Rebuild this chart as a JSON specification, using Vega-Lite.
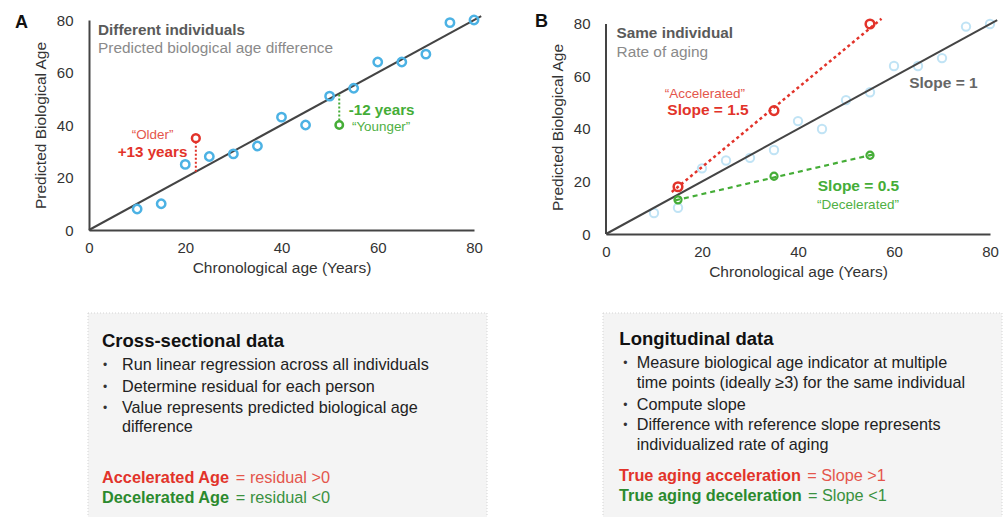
{
  "$schema": "https://vega.github.io/schema/vega-lite/v6.json",
  "padding": {"left": 14, "top": 10, "right": 0, "bottom": 0},
  "background": "white",
  "config": {
    "view": {"stroke": null},
    "font": "Liberation Sans",
    "axis": {"domainColor": "#444", "domainWidth": 2, "ticks": false, "tickSize": 0, "grid": false, "labelFont": "Liberation Sans", "labelFontSize": 15, "labelColor": "#333", "titleFont": "Liberation Sans", "titleFontSize": 15.5, "titleFontWeight": "normal", "titleColor": "#333", "labelFlush": false},
    "axisX": {"labelPadding": 10, "titlePadding": 5},
    "axisY": {"labelPadding": 16, "titlePadding": 8}
  },
  "datasets": {
    "pts": [
      {"x": 10, "y": 8}, {"x": 15, "y": 10}, {"x": 20, "y": 25}, {"x": 25, "y": 28}, {"x": 30, "y": 29},
      {"x": 35, "y": 32}, {"x": 40, "y": 43}, {"x": 45, "y": 40}, {"x": 50, "y": 51}, {"x": 55, "y": 54},
      {"x": 60, "y": 64}, {"x": 65, "y": 64}, {"x": 70, "y": 67}, {"x": 75, "y": 79}, {"x": 80, "y": 80}
    ],
    "fit": [{"x": 0, "y": 0}, {"x": 81.5, "y": 81.5}],
    "axisB": [{"x": 0, "y": 0, "y2": 80}],
    "resA": [{"role": "red", "x": 22.2, "y": 22.2, "y2": 33.3}, {"role": "green", "x": 52, "y": 41.7, "y2": 52}],
    "outA": [{"role": "red", "x": 22.2, "y": 35}, {"role": "green", "x": 52, "y": 40}],
    "traj": [
      {"role": "red", "x": 13.7, "y": 16}, {"role": "red", "x": 57.4, "y": 82},
      {"role": "green", "x": 14.4, "y": 12.8}, {"role": "green", "x": 56.4, "y": 30.6}
    ],
    "obsB": [
      {"role": "red", "x": 15, "y": 18}, {"role": "red", "x": 35, "y": 47}, {"role": "red", "x": 55, "y": 80},
      {"role": "green", "x": 15, "y": 13}, {"role": "green", "x": 35, "y": 22}, {"role": "green", "x": 55, "y": 30}
    ],
    "annA": [
      {"role": "letter", "x": -15.4, "y": 76.95, "t": "A"},
      {"role": "head", "x": 1.87, "y": 76.2, "t": "Different individuals"},
      {"role": "sub", "x": 1.87, "y": 69.2, "t": "Predicted biological age difference"},
      {"role": "redLight", "x": 13.2, "y": 36.2, "t": "“Older”"},
      {"role": "redBold", "x": 13.2, "y": 29.6, "t": "+13 years"},
      {"role": "greenBold", "x": 60.8, "y": 45.7, "t": "-12 years"},
      {"role": "greenLight", "x": 60.7, "y": 39.1, "t": "“Younger”"}
    ],
    "annB": [
      {"role": "letter", "x": -14.8, "y": 78.86, "t": "B"},
      {"role": "head", "x": 2.2, "y": 76.5, "t": "Same individual"},
      {"role": "sub", "x": 2.2, "y": 69.5, "t": "Rate of aging"},
      {"role": "redLight", "x": 20.6, "y": 53.2, "t": "“Accelerated”"},
      {"role": "redBold", "x": 21.25, "y": 47.2, "t": "Slope = 1.5"},
      {"role": "grayBold", "x": 70.3, "y": 57.6, "t": "Slope = 1"},
      {"role": "greenBold", "x": 52.6, "y": 18.3, "t": "Slope = 0.5"},
      {"role": "greenLight", "x": 52.5, "y": 11.0, "t": "“Decelerated”"}
    ],
    "boxA": [
      {"role": "bg", "x": -0.25, "x2": 100, "y": 0, "y2": 100},
      {"role": "border", "x": -0.25, "x2": 100, "y": 0, "y2": 0},
      {"role": "border", "x": -0.25, "x2": -0.25, "y": 0, "y2": 100},
      {"role": "border", "x": 100, "x2": 100, "y": 0, "y2": 100},
      {"role": "title", "x": 3.27, "y": 13.7, "t": "Cross-sectional data"},
      {"role": "bullet", "x": 3.5, "y": 25.5, "t": "•"},
      {"role": "bullet", "x": 3.5, "y": 36.1, "t": "•"},
      {"role": "bullet", "x": 3.5, "y": 46.7, "t": "•"},
      {"role": "body", "x": 8.29, "y": 25.5, "t": "Run linear regression across all individuals"},
      {"role": "body", "x": 8.29, "y": 36.1, "t": "Determine residual for each person"},
      {"role": "body", "x": 8.29, "y": 46.7, "t": "Value represents predicted biological age"},
      {"role": "body", "x": 8.29, "y": 55.7, "t": "difference"},
      {"role": "redBold", "x": 3.27, "y": 81.0, "t": "Accelerated Age"},
      {"role": "redLight", "x": 36.9, "y": 81.0, "t": "= residual >0"},
      {"role": "greenBold", "x": 3.27, "y": 90.8, "t": "Decelerated Age"},
      {"role": "greenLight", "x": 36.9, "y": 90.8, "t": "= residual <0"}
    ],
    "boxB": [
      {"role": "bg", "x": -0.76, "x2": 100, "y": 0, "y2": 100},
      {"role": "border", "x": -0.76, "x2": 100, "y": 0, "y2": 0},
      {"role": "border", "x": -0.76, "x2": -0.76, "y": 0, "y2": 100},
      {"role": "border", "x": 100, "x2": 100, "y": 0, "y2": 100},
      {"role": "title", "x": 3.37, "y": 12.7, "t": "Longitudinal data"},
      {"role": "bullet", "x": 4.38, "y": 24.7, "t": "•"},
      {"role": "bullet", "x": 4.38, "y": 45.1, "t": "•"},
      {"role": "bullet", "x": 4.38, "y": 54.9, "t": "•"},
      {"role": "body", "x": 7.77, "y": 24.7, "t": "Measure biological age indicator at multiple"},
      {"role": "body", "x": 7.77, "y": 34.5, "t": "time points (ideally ≥3) for the same individual"},
      {"role": "body", "x": 7.77, "y": 45.1, "t": "Compute slope"},
      {"role": "body", "x": 7.77, "y": 54.9, "t": "Difference with reference slope represents"},
      {"role": "body", "x": 7.77, "y": 64.7, "t": "individualized rate of aging"},
      {"role": "redBold", "x": 3.29, "y": 79.9, "t": "True aging acceleration"},
      {"role": "redLight", "x": 50.8, "y": 79.9, "t": "= Slope >1"},
      {"role": "greenBold", "x": 3.29, "y": 89.7, "t": "True aging deceleration"},
      {"role": "greenLight", "x": 51.0, "y": 89.7, "t": "= Slope <1"}
    ]
  },
  "columns": 2,
  "spacing": {"row": 79, "column": 119},
  "bounds": "flush",
  "align": "each",
  "concat": [
    {
      "width": 385,
      "height": 210,
      "encoding": {
        "x": {"field": "x", "type": "quantitative", "scale": {"domain": [0, 80], "nice": false, "zero": false}, "axis": {"values": [0, 20, 40, 60, 80], "title": "Chronological age (Years)"}},
        "y": {"field": "y", "type": "quantitative", "scale": {"domain": [0, 80], "nice": false, "zero": false}, "axis": {"values": [0, 20, 40, 60, 80], "title": "Predicted Biological Age"}}
      },
      "layer": [
        {"data": {"name": "fit"}, "mark": {"type": "line", "color": "#444", "strokeWidth": 2, "clip": false}, "encoding": {}},
        {"data": {"name": "pts"}, "mark": {"type": "point", "filled": false, "shape": "circle", "color": "#4cb2e4", "strokeWidth": 2.5, "size": 70, "opacity": 1, "clip": false}, "encoding": {}},
        {"data": {"name": "resA"}, "transform": [{"filter": "datum.role === 'red'"}], "mark": {"type": "rule", "color": "#e2332a", "strokeWidth": 2, "strokeDash": [2, 2]}, "encoding": {"y2": {"field": "y2"}}},
        {"data": {"name": "resA"}, "transform": [{"filter": "datum.role === 'green'"}], "mark": {"type": "rule", "color": "#45ad37", "strokeWidth": 2, "strokeDash": [2, 2]}, "encoding": {"y2": {"field": "y2"}}},
        {"data": {"name": "outA"}, "transform": [{"filter": "datum.role === 'red'"}], "mark": {"type": "point", "filled": false, "shape": "circle", "color": "#e2332a", "strokeWidth": 2.5, "size": 60, "opacity": 1}, "encoding": {}},
        {"data": {"name": "outA"}, "transform": [{"filter": "datum.role === 'green'"}], "mark": {"type": "point", "filled": false, "shape": "circle", "color": "#45ad37", "strokeWidth": 2.5, "size": 55, "opacity": 1}, "encoding": {}},
        {"data": {"name": "annA"}, "transform": [{"filter": "datum.role === 'letter'"}], "mark": {"type": "text", "fontWeight": "bold", "fontSize": 18, "color": "#111", "align": "left", "baseline": "alphabetic"}, "encoding": {"text": {"field": "t"}}},
        {"data": {"name": "annA"}, "transform": [{"filter": "datum.role === 'head'"}], "mark": {"type": "text", "fontWeight": "bold", "fontSize": 15.3, "color": "#5a5a5a", "align": "left", "baseline": "middle"}, "encoding": {"text": {"field": "t"}}},
        {"data": {"name": "annA"}, "transform": [{"filter": "datum.role === 'sub'"}], "mark": {"type": "text", "fontSize": 15.4, "color": "#8a8a8a", "align": "left", "baseline": "middle"}, "encoding": {"text": {"field": "t"}}},
        {"data": {"name": "annA"}, "transform": [{"filter": "datum.role === 'redLight'"}], "mark": {"type": "text", "fontSize": 13.4, "color": "#e4564c", "align": "center", "baseline": "middle"}, "encoding": {"text": {"field": "t"}}},
        {"data": {"name": "annA"}, "transform": [{"filter": "datum.role === 'redBold'"}], "mark": {"type": "text", "fontWeight": "bold", "fontSize": 15.2, "color": "#e2332a", "align": "center", "baseline": "middle"}, "encoding": {"text": {"field": "t"}}},
        {"data": {"name": "annA"}, "transform": [{"filter": "datum.role === 'greenBold'"}], "mark": {"type": "text", "fontWeight": "bold", "fontSize": 15.2, "color": "#45ad37", "align": "center", "baseline": "middle"}, "encoding": {"text": {"field": "t"}}},
        {"data": {"name": "annA"}, "transform": [{"filter": "datum.role === 'greenLight'"}], "mark": {"type": "text", "fontSize": 13.4, "color": "#4fb044", "align": "center", "baseline": "middle"}, "encoding": {"text": {"field": "t"}}}
      ]
    },
    {
      "width": 384,
      "height": 214,
      "encoding": {
        "x": {"field": "x", "type": "quantitative", "scale": {"domain": [0, 80], "nice": false, "zero": false}, "axis": {"values": [0, 20, 40, 60, 80], "title": "Chronological age (Years)"}},
        "y": {"field": "y", "type": "quantitative", "scale": {"domain": [0, 81.52], "nice": false, "zero": false}, "axis": {"values": [0, 20, 40, 60, 80], "title": "Predicted Biological Age", "domain": false}}
      },
      "layer": [
        {"data": {"name": "axisB"}, "mark": {"type": "rule", "color": "#444", "strokeWidth": 2}, "encoding": {"y2": {"field": "y2"}}},
        {"data": {"name": "pts"}, "mark": {"type": "point", "filled": false, "shape": "circle", "color": "#4cb2e4", "strokeWidth": 2, "size": 70, "opacity": 0.35, "clip": false}, "encoding": {}},
        {"data": {"name": "fit"}, "mark": {"type": "line", "color": "#444", "strokeWidth": 2, "clip": false}, "encoding": {}},
        {"data": {"name": "traj"}, "transform": [{"filter": "datum.role === 'red'"}], "mark": {"type": "line", "color": "#e2332a", "strokeWidth": 2.5, "strokeDash": [3, 3], "clip": false}, "encoding": {}},
        {"data": {"name": "traj"}, "transform": [{"filter": "datum.role === 'green'"}], "mark": {"type": "line", "color": "#45ad37", "strokeWidth": 2.2, "strokeDash": [5, 4], "clip": false}, "encoding": {}},
        {"data": {"name": "obsB"}, "transform": [{"filter": "datum.role === 'red'"}], "mark": {"type": "point", "filled": false, "shape": "circle", "color": "#e2332a", "strokeWidth": 2.5, "size": 75, "opacity": 1}, "encoding": {}},
        {"data": {"name": "obsB"}, "transform": [{"filter": "datum.role === 'green'"}], "mark": {"type": "point", "filled": false, "shape": "circle", "color": "#45ad37", "strokeWidth": 2.2, "size": 50, "opacity": 1}, "encoding": {}},
        {"data": {"name": "annB"}, "transform": [{"filter": "datum.role === 'letter'"}], "mark": {"type": "text", "fontWeight": "bold", "fontSize": 18, "color": "#111", "align": "left", "baseline": "alphabetic"}, "encoding": {"text": {"field": "t"}}},
        {"data": {"name": "annB"}, "transform": [{"filter": "datum.role === 'head'"}], "mark": {"type": "text", "fontWeight": "bold", "fontSize": 15.3, "color": "#5a5a5a", "align": "left", "baseline": "middle"}, "encoding": {"text": {"field": "t"}}},
        {"data": {"name": "annB"}, "transform": [{"filter": "datum.role === 'sub'"}], "mark": {"type": "text", "fontSize": 15.4, "color": "#8a8a8a", "align": "left", "baseline": "middle"}, "encoding": {"text": {"field": "t"}}},
        {"data": {"name": "annB"}, "transform": [{"filter": "datum.role === 'redLight'"}], "mark": {"type": "text", "fontSize": 13.5, "color": "#e4564c", "align": "center", "baseline": "middle"}, "encoding": {"text": {"field": "t"}}},
        {"data": {"name": "annB"}, "transform": [{"filter": "datum.role === 'redBold'"}], "mark": {"type": "text", "fontWeight": "bold", "fontSize": 15.5, "color": "#e2332a", "align": "center", "baseline": "middle"}, "encoding": {"text": {"field": "t"}}},
        {"data": {"name": "annB"}, "transform": [{"filter": "datum.role === 'grayBold'"}], "mark": {"type": "text", "fontWeight": "bold", "fontSize": 15.5, "color": "#666", "align": "center", "baseline": "middle"}, "encoding": {"text": {"field": "t"}}},
        {"data": {"name": "annB"}, "transform": [{"filter": "datum.role === 'greenBold'"}], "mark": {"type": "text", "fontWeight": "bold", "fontSize": 15.5, "color": "#45ad37", "align": "center", "baseline": "middle"}, "encoding": {"text": {"field": "t"}}},
        {"data": {"name": "annB"}, "transform": [{"filter": "datum.role === 'greenLight'"}], "mark": {"type": "text", "fontSize": 13.5, "color": "#4fb044", "align": "center", "baseline": "middle"}, "encoding": {"text": {"field": "t"}}}
      ]
    },
    {
      "width": 398,
      "height": 204,
      "data": {"name": "boxA"},
      "encoding": {
        "x": {"field": "x", "type": "quantitative", "scale": {"domain": [0, 100], "nice": false, "zero": false}, "axis": null},
        "y": {"field": "y", "type": "quantitative", "scale": {"domain": [0, 100], "nice": false, "zero": false, "reverse": true}, "axis": null}
      },
      "layer": [
        {"transform": [{"filter": "datum.role === 'bg'"}], "mark": {"type": "rect", "color": "#f4f4f4"}, "encoding": {"x2": {"field": "x2"}, "y2": {"field": "y2"}}},
        {"transform": [{"filter": "datum.role === 'border'"}], "mark": {"type": "rule", "color": "#d4d4d4", "strokeWidth": 1, "strokeDash": [1, 2]}, "encoding": {"x2": {"field": "x2"}, "y2": {"field": "y2"}}},
        {"transform": [{"filter": "datum.role === 'title'"}], "mark": {"type": "text", "fontWeight": "bold", "fontSize": 18.5, "color": "#111", "align": "left", "baseline": "middle"}, "encoding": {"text": {"field": "t"}}},
        {"transform": [{"filter": "datum.role === 'bullet'"}], "mark": {"type": "text", "fontSize": 12, "color": "#333", "align": "left", "baseline": "middle"}, "encoding": {"text": {"field": "t"}}},
        {"transform": [{"filter": "datum.role === 'body'"}], "mark": {"type": "text", "fontSize": 16.2, "color": "#222", "align": "left", "baseline": "middle"}, "encoding": {"text": {"field": "t"}}},
        {"transform": [{"filter": "datum.role === 'redBold'"}], "mark": {"type": "text", "fontWeight": "bold", "fontSize": 16.3, "color": "#e2332a", "align": "left", "baseline": "middle"}, "encoding": {"text": {"field": "t"}}},
        {"transform": [{"filter": "datum.role === 'redLight'"}], "mark": {"type": "text", "fontSize": 16.3, "color": "#e4564c", "align": "left", "baseline": "middle"}, "encoding": {"text": {"field": "t"}}},
        {"transform": [{"filter": "datum.role === 'greenBold'"}], "mark": {"type": "text", "fontWeight": "bold", "fontSize": 16.3, "color": "#2b8a2e", "align": "left", "baseline": "middle"}, "encoding": {"text": {"field": "t"}}},
        {"transform": [{"filter": "datum.role === 'greenLight'"}], "mark": {"type": "text", "fontSize": 16.3, "color": "#3a9140", "align": "left", "baseline": "middle"}, "encoding": {"text": {"field": "t"}}}
      ]
    },
    {
      "width": 396,
      "height": 204,
      "data": {"name": "boxB"},
      "encoding": {
        "x": {"field": "x", "type": "quantitative", "scale": {"domain": [0, 100], "nice": false, "zero": false}, "axis": null},
        "y": {"field": "y", "type": "quantitative", "scale": {"domain": [0, 100], "nice": false, "zero": false, "reverse": true}, "axis": null}
      },
      "layer": [
        {"transform": [{"filter": "datum.role === 'bg'"}], "mark": {"type": "rect", "color": "#f4f4f4"}, "encoding": {"x2": {"field": "x2"}, "y2": {"field": "y2"}}},
        {"transform": [{"filter": "datum.role === 'border'"}], "mark": {"type": "rule", "color": "#d4d4d4", "strokeWidth": 1, "strokeDash": [1, 2]}, "encoding": {"x2": {"field": "x2"}, "y2": {"field": "y2"}}},
        {"transform": [{"filter": "datum.role === 'title'"}], "mark": {"type": "text", "fontWeight": "bold", "fontSize": 18.5, "color": "#111", "align": "left", "baseline": "middle"}, "encoding": {"text": {"field": "t"}}},
        {"transform": [{"filter": "datum.role === 'bullet'"}], "mark": {"type": "text", "fontSize": 12, "color": "#333", "align": "left", "baseline": "middle"}, "encoding": {"text": {"field": "t"}}},
        {"transform": [{"filter": "datum.role === 'body'"}], "mark": {"type": "text", "fontSize": 16.2, "color": "#222", "align": "left", "baseline": "middle"}, "encoding": {"text": {"field": "t"}}},
        {"transform": [{"filter": "datum.role === 'redBold'"}], "mark": {"type": "text", "fontWeight": "bold", "fontSize": 16.3, "color": "#e2332a", "align": "left", "baseline": "middle"}, "encoding": {"text": {"field": "t"}}},
        {"transform": [{"filter": "datum.role === 'redLight'"}], "mark": {"type": "text", "fontSize": 16.3, "color": "#e4564c", "align": "left", "baseline": "middle"}, "encoding": {"text": {"field": "t"}}},
        {"transform": [{"filter": "datum.role === 'greenBold'"}], "mark": {"type": "text", "fontWeight": "bold", "fontSize": 16.3, "color": "#2b8a2e", "align": "left", "baseline": "middle"}, "encoding": {"text": {"field": "t"}}},
        {"transform": [{"filter": "datum.role === 'greenLight'"}], "mark": {"type": "text", "fontSize": 16.3, "color": "#3a9140", "align": "left", "baseline": "middle"}, "encoding": {"text": {"field": "t"}}}
      ]
    }
  ]
}
